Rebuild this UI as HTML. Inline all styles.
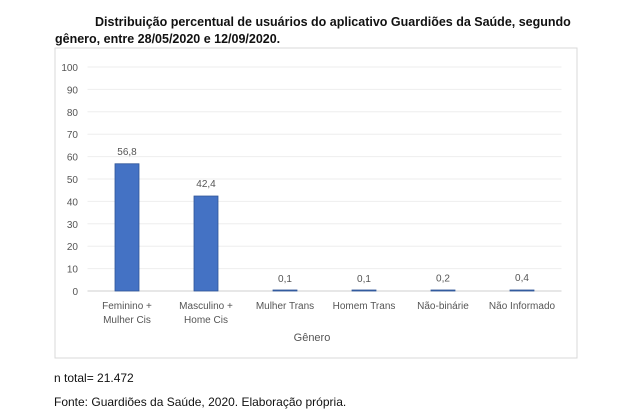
<!DOCTYPE html>
<html><head><meta charset="utf-8"><style>
body{margin:0;background:#fff;width:620px;height:412px;overflow:hidden;font-family:"Liberation Sans",sans-serif;}
.t{position:absolute;color:#111;}
</style></head><body>
<div class="t" style="left:95px;top:12px;font-size:12.5px;font-weight:bold;line-height:20px;width:490px;text-align:justify;">Distribuição percentual de usuários do aplicativo Guardiões da Saúde, segundo</div>
<div class="t" style="left:55px;top:32px;font-size:12.5px;font-weight:bold;">gênero, entre 28/05/2020 e 12/09/2020.</div>
<svg id="c" width="620" height="412" style="position:absolute;left:0;top:0" font-family="Liberation Sans, sans-serif"></svg>
<div class="t" style="left:54px;top:371px;font-size:12px;">n total= 21.472</div>
<div class="t" style="left:54px;top:395px;font-size:12px;">Fonte: Guardiões da Saúde, 2020. Elaboração própria.</div>
<script>
const categories=[["Feminino +","Mulher Cis"],["Masculino +","Home Cis"],["Mulher Trans"],["Homem Trans"],["Não-binárie"],["Não Informado"]];
const values=[56.8,42.4,0.1,0.1,0.2,0.4];
const valueLabels=["56,8","42,4","0,1","0,1","0,2","0,4"];
const yTicks=[0,10,20,30,40,50,60,70,80,90,100];
const svg=document.getElementById('c');const NS='http://www.w3.org/2000/svg';
function mk(t,a,p){const e=document.createElementNS(NS,t);for(const k in a)e.setAttribute(k,a[k]);(p||svg).appendChild(e);return e;}
const x0=87.5,x1=561.5,y0=291,y1=67;
const yS=v=>y0-(v/100)*(y0-y1);
const bw=(x1-x0)/categories.length;
const xC=i=>x0+bw*(i+0.5);
const box=mk('rect',{x:55,y:48,width:522,height:310,fill:'#fff',stroke:'#d9d9d9'});

yTicks.forEach(t=>{
 const l=mk('line',{x1:x0,x2:x1,y1:yS(t),y2:yS(t),stroke:t===0?'#cfcfcf':'#eeeeee'});
 
 const tx=mk('text',{x:78,y:yS(t)+4,'text-anchor':'end','font-size':10,fill:'#555'});tx.textContent=t;
 
});
values.forEach((v,i)=>{
 const w=24,h=Math.max(yS(0)-yS(v),1);
 const r=mk('rect',{x:xC(i)-w/2,y:yS(0)-h,width:w,height:h,fill:'#4472c4',stroke:'#2f5597','stroke-width':0.8});
 
 const lb=mk('text',{x:xC(i),y:yS(v)-9,'text-anchor':'middle','font-size':10,fill:'#555'});lb.textContent=valueLabels[i];
 
 categories[i].forEach((s,j)=>{
  const c=mk('text',{x:xC(i),y:309+j*14,'text-anchor':'middle','font-size':10,fill:'#555'});c.textContent=s;
  
 });
});
const xt=mk('text',{x:312,y:341,'text-anchor':'middle','font-size':11,fill:'#555'});xt.textContent='Gênero';

</script>
</body></html>
